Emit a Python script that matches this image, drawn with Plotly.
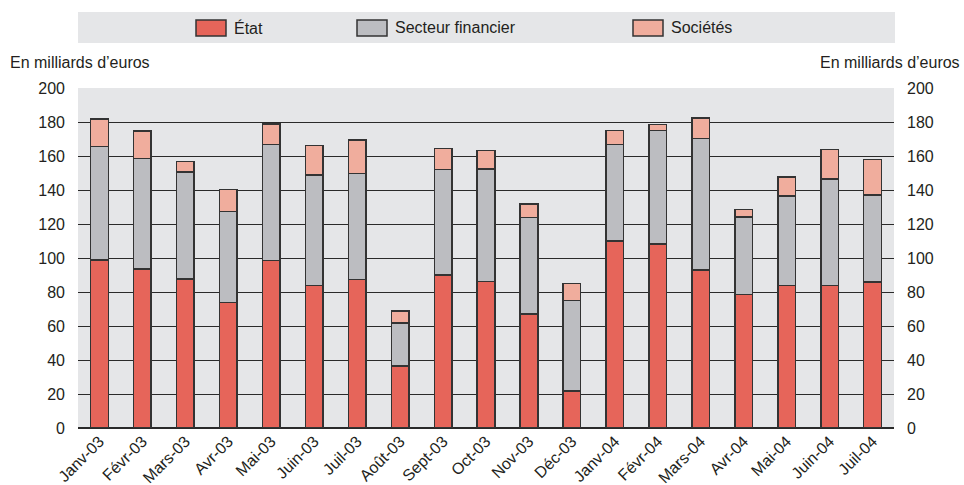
import plotly.graph_objects as go

# Monthly issuance, in billions of euros
months = ["Janv-03", "Févr-03", "Mars-03", "Avr-03", "Mai-03", "Juin-03", "Juil-03",
          "Août-03", "Sept-03", "Oct-03", "Nov-03", "Déc-03", "Janv-04", "Févr-04",
          "Mars-04", "Avr-04", "Mai-04", "Juin-04", "Juil-04"]
etat = [98.8, 93.5, 87.6, 73.7, 98.6, 83.7, 87.5, 36.5, 90.0, 86.1, 67.1, 21.8,
        110.0, 108.2, 92.9, 78.6, 83.7, 83.9, 85.9]
secteur_financier = [66.7, 64.9, 63.0, 53.6, 68.1, 65.1, 62.1, 25.4, 62.0, 66.4, 56.6,
                     53.1, 56.7, 66.9, 77.5, 45.5, 52.8, 62.6, 51.2]
societes = [16.3, 16.3, 6.3, 13.1, 12.1, 17.3, 19.8, 6.9, 12.3, 10.6, 8.2, 10.2,
            8.4, 3.5, 12.1, 4.3, 11.1, 17.4, 20.7]
y_ticks = list(range(0, 201, 20))

series = [
    ("État", etat, "#E6655A"),
    ("Secteur financier", secteur_financier, "#BCBDC1"),
    ("Sociétés", societes, "#F0AD9D"),
]

FONT = "Liberation Sans, Arial, sans-serif"
TXT = "#231F20"
EDGE = "#333333"
BG = "#E5E6E8"
W, H = 964, 485
ML, MR, MT, MB = 78, 70, 88, 57
PW, PH = W - ML - MR, H - MT - MB


def px_x(px):
    return (px - ML) / PW


def px_y(py):
    return (H - MB - py) / PH


fig = go.Figure()
for name, vals, color in series:
    fig.add_trace(go.Bar(
        x=months, y=vals, name=name, marker_color=color,
        marker_line_color=EDGE, marker_line_width=1.5, showlegend=False,
    ))

# mirror axis on the right
fig.add_trace(go.Scatter(x=[months[0]], y=[0], yaxis="y2", mode="markers",
                         marker_opacity=0, showlegend=False, hoverinfo="skip"))

axis_common = dict(
    range=[0, 200], tickvals=y_ticks, ticks="", showline=False, automargin=False,
    tickfont=dict(family=FONT, size=16, color=TXT),
)

fig.update_layout(
    width=W, height=H,
    margin=dict(l=ML, r=MR, t=MT, b=MB),
    paper_bgcolor="white", plot_bgcolor=BG,
    barmode="stack", bargap=0.59,
    font=dict(family=FONT, color=TXT),
    xaxis=dict(type="category", range=[-0.5, len(months) - 0.5],
               tickangle=-45, tickfont=dict(family=FONT, size=16, color=TXT),
               showgrid=False, ticks="", showline=False, zeroline=False,
               automargin=False),
    yaxis=dict(**axis_common, showgrid=True, gridcolor="#2A2A2A", gridwidth=1,
               zeroline=True, zerolinecolor="#2A2A2A", zerolinewidth=2,
               ticklabelstandoff=12),
    yaxis2=dict(**axis_common, overlaying="y", side="right", showgrid=False,
                zeroline=False, ticklabelstandoff=12),
)

# legend band
shapes = [dict(type="rect", xref="paper", yref="paper", x0=0, x1=px_x(895),
               y0=px_y(43), y1=px_y(12), fillcolor=BG, line_width=0, layer="below")]
annotations = []
legend_x = [196, 357, 633]
for (name, _, color), px in zip(series, legend_x):
    shapes.append(dict(type="rect", xref="paper", yref="paper",
                       x0=px_x(px), x1=px_x(px + 30), y0=px_y(36), y1=px_y(20),
                       fillcolor=color, line=dict(color=EDGE, width=1.5)))
    annotations.append(dict(xref="paper", yref="paper", x=px_x(px + 36),
                            y=px_y(28), text=name, showarrow=False,
                            xanchor="left", yanchor="middle",
                            font=dict(family=FONT, size=16, color=TXT)))

for side in ("left", "right"):
    annotations.append(dict(
        xref="paper", yref="paper",
        x=px_x(8) if side == "left" else px_x(962),
        y=px_y(62), text="En milliards d’euros", showarrow=False,
        xanchor=side, yanchor="middle", font=dict(family=FONT, size=16, color=TXT)))

fig.update_layout(shapes=shapes, annotations=annotations)
fig.write_html("out.html")
